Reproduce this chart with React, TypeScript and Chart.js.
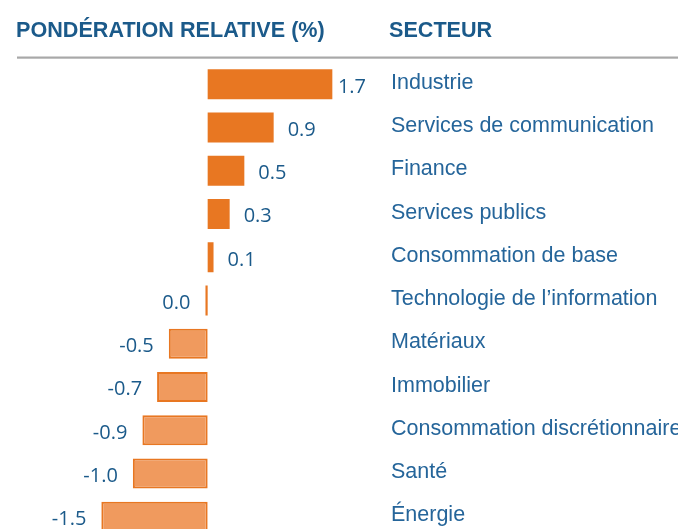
import React, { useEffect, useRef } from "react";
import { Chart, registerables } from "chart.js";

Chart.register(...registerables);

const categories = [
  "Industrie",
  "Services de communication",
  "Finance",
  "Services publics",
  "Consommation de base",
  "Technologie de l’information",
  "Matériaux",
  "Immobilier",
  "Consommation discrétionnaire",
  "Santé",
  "Énergie",
];
const values = [1.7, 0.9, 0.5, 0.3, 0.08, -0.03, -0.53, -0.69, -0.89, -1.02, -1.45];
const valueLabels = ["1.7", "0.9", "0.5", "0.3", "0.1", "0.0", "-0.5", "-0.7", "-0.9", "-1.0", "-1.5"];
const headerLeft = "PONDÉRATION RELATIVE (%)";
const headerRight = "SECTEUR";

const POS_COLOR = "#E87722";
const NEG_FILL = "#F09A5E";
const TEXT_DARK = "#1B5A8A";
const TEXT_CAT = "#25659A";

const labelsPlugin = {
  id: "customLabels",
  afterDraw(chart: any) {
    const ctx = chart.ctx as CanvasRenderingContext2D;
    const meta = chart.getDatasetMeta(0);
    ctx.save();
    // headers
    ctx.fillStyle = TEXT_DARK;
    ctx.font = 'bold 21.6px "Liberation Sans", Arial, sans-serif';
    ctx.textBaseline = "alphabetic";
    ctx.textAlign = "left";
    ctx.fillText(headerLeft, 16, 37);
    ctx.fillText(headerRight, 389, 37);
    // rule
    ctx.fillStyle = "#A8A8A8";
    ctx.fillRect(17, 56.5, 661, 2.2);
    // value + category labels
    meta.data.forEach((el: any, i: number) => {
      const v = values[i];
      const y = el.y;
      ctx.font = '20px "Open Sans", "Noto Sans", sans-serif';
      ctx.fillStyle = TEXT_DARK;
      const txt = valueLabels[i];
      const w = ctx.measureText(txt).width;
      if (v >= 0) {
        const x = Math.min(el.x + 14, 366 - w);
        ctx.textAlign = "left";
        ctx.fillText(txt, x, y + 8.3);
      } else {
        const left = Math.min(el.x, el.base);
        ctx.textAlign = "right";
        ctx.fillText(txt, left - 15, y + 8.3);
      }
      ctx.textAlign = "left";
      ctx.font = '21.5px "Liberation Sans", Arial, sans-serif';
      ctx.fillStyle = TEXT_CAT;
      ctx.fillText(categories[i], 391, y + 4.7);
    });
    ctx.restore();
  },
};

export default function App() {
  const ref = useRef<HTMLCanvasElement | null>(null);
  useEffect(() => {
    if (!ref.current) return;
    const chart = new Chart(ref.current, {
      type: "bar",
      data: {
        labels: categories,
        datasets: [
          {
            data: values,
            backgroundColor: values.map((v) => (v >= 0 || Math.abs(v) < 0.05 ? POS_COLOR : NEG_FILL)),
            borderColor: POS_COLOR,
            borderWidth: values.map((v) => (v >= 0 || Math.abs(v) < 0.05 ? 0 : 2)),
            borderSkipped: false,
            barPercentage: 0.694,
            categoryPercentage: 1,
          },
        ],
      },
      options: {
        indexAxis: "y",
        responsive: false,
        animation: false,
        devicePixelRatio: 1,
        layout: { padding: { left: 17, right: 298, top: 62.7, bottom: 6.7 } },
        plugins: { legend: { display: false }, tooltip: { enabled: false }, title: { display: false } },
        scales: {
          x: { type: "linear", min: -2.6, max: 2.35, display: false, grid: { display: false } },
          y: { type: "category", display: false, grid: { display: false } },
        },
      },
      plugins: [labelsPlugin],
    });
    return () => chart.destroy();
  }, []);
  return (
    <div style={{ position: "absolute", left: 0, top: 0, width: 678, height: 529, overflow: "hidden", background: "#fff" }}>
      <canvas ref={ref} width={678} height={545} style={{ display: "block" }} />
    </div>
  );
}
